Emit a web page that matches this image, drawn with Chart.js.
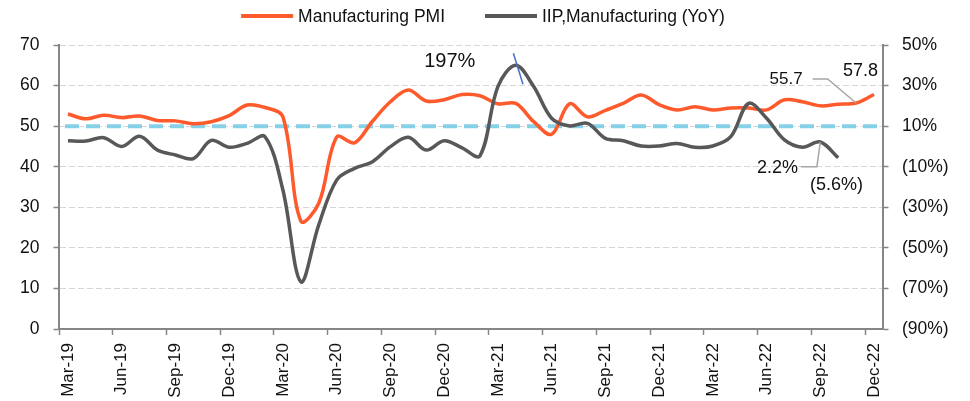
<!DOCTYPE html>
<html>
<head>
<meta charset="utf-8">
<script src="https://cdn.jsdelivr.net/npm/chart.js@4.4.1/dist/chart.umd.min.js"></script>
<style>
  html, body { margin: 0; padding: 0; background: #fff; }
</style>
</head>
<body>
<canvas id="pmiChart" width="970" height="401"></canvas>
<script>
var months = [
  'Mar-19', 'Apr-19', 'May-19', 'Jun-19', 'Jul-19', 'Aug-19', 'Sep-19', 'Oct-19', 'Nov-19', 'Dec-19', 'Jan-20', 'Feb-20',
  'Mar-20', 'Apr-20', 'May-20', 'Jun-20', 'Jul-20', 'Aug-20', 'Sep-20', 'Oct-20', 'Nov-20', 'Dec-20', 'Jan-21', 'Feb-21',
  'Mar-21', 'Apr-21', 'May-21', 'Jun-21', 'Jul-21', 'Aug-21', 'Sep-21', 'Oct-21', 'Nov-21', 'Dec-21', 'Jan-22', 'Feb-22',
  'Mar-22', 'Apr-22', 'May-22', 'Jun-22', 'Jul-22', 'Aug-22', 'Sep-22', 'Oct-22', 'Nov-22', 'Dec-22'
];

// Manufacturing PMI, left axis
var pmi = [
  53.0, 51.8, 52.7, 52.1, 52.5, 51.4, 51.3, 50.6, 51.1, 52.6, 55.2, 54.6,
  52.3, 26.6, 31.0, 47.3, 45.9, 51.2, 56.0, 58.9, 56.2, 56.5, 57.8, 57.5,
  55.5, 55.6, 51.1, 48.0, 55.5, 52.3, 53.9, 55.6, 57.7, 55.3, 54.0, 54.8,
  54.0, 54.5, 54.5, 54.0, 56.5, 56.0, 55.0, 55.4, 55.7, 57.8
];

// IIP manufacturing YoY %, right axis (runs to Oct-22)
var iip = [
  2.8, 2.7, 4.3, 0.0, 5.0, -1.8, -4.2, -6.0, 3.0, -0.4, 1.5, 4.8,
  -21.5, -66.7, -38.7, -16.6, -10.8, -7.5, -0.1, 4.5, -1.8, 2.8, -0.7, -4.6,
  29.5, 197, 29.5, 13.9, 10.1, 11.4, 4.0, 2.8, 0.2, 0.2, 1.5, -0.4,
  0.2, 4.8, 21.2, 13.9, 3.2, -0.4, 2.2, -5.6
];

var leftTicks = { min: 0, max: 70, step: 10 };
var rightTicks = { min: -90, max: 50, step: 20 };
var pmiThreshold = 50;
var iipCap = 40; // axis break: values above this are drawn at the cap

var FONT = '"Liberation Sans", Arial, sans-serif';
var ORANGE = '#ff5a2c';
var GREY = '#585858';
var AXIS = '#868686';

function pctLabel(v) {
  return v < 0 ? '(' + Math.abs(v).toFixed(1) + '%)' : v.toFixed(1) + '%';
}

var extras = {
  id: 'extras',
  beforeDatasetsDraw: function (chart) {
    var ctx = chart.ctx, a = chart.chartArea;
    var y = chart.scales.y.getPixelForValue(pmiThreshold);
    ctx.save();
    ctx.strokeStyle = '#86d1e7';
    ctx.lineWidth = 4;
    ctx.setLineDash([14, 7]);
    ctx.lineDashOffset = -6;
    ctx.beginPath();
    ctx.moveTo(a.left, y);
    ctx.lineTo(a.right, y);
    ctx.stroke();
    ctx.restore();
  },
  afterDatasetsDraw: function (chart) {
    var ctx = chart.ctx;
    var pm = chart.getDatasetMeta(0).data;
    var ip = chart.getDatasetMeta(1).data;
    ctx.save();
    ctx.fillStyle = '#111';
    ctx.textAlign = 'center';
    ctx.textBaseline = 'middle';

    // peak beyond the axis, with a break mark
    var peak = iip.indexOf(Math.max.apply(null, iip));
    var p = ip[peak];
    ctx.strokeStyle = '#4472c4';
    ctx.lineWidth = 1.5;
    ctx.beginPath();
    ctx.moveTo(p.x - 2.4, p.y - 12);
    ctx.lineTo(p.x + 7.2, p.y + 19);
    ctx.stroke();
    ctx.font = '20px ' + FONT;
    ctx.fillText(Math.round(iip[peak]) + '%', p.x - 66, p.y - 4);

    ctx.strokeStyle = '#a6a6a6';
    ctx.lineWidth = 1.5;

    // last two PMI prints
    var n = pmi.length;
    var a1 = pm[n - 2], a2 = pm[n - 1];
    ctx.beginPath();
    ctx.moveTo(a1.x, a1.y);
    ctx.lineTo(a1.x - 28.5, a1.y - 24);
    ctx.lineTo(a1.x - 43.5, a1.y - 24);
    ctx.stroke();
    ctx.font = '17px ' + FONT;
    ctx.fillText(pmi[n - 2].toFixed(1), a1.x - 70, a1.y - 23.5);
    ctx.font = '18px ' + FONT;
    ctx.fillText(pmi[n - 1].toFixed(1), a2.x - 13.5, a2.y - 23.7);

    // last two IIP prints
    var m = iip.length;
    var b1 = ip[m - 2], b2 = ip[m - 1];
    ctx.beginPath();
    ctx.moveTo(b1.x, b1.y);
    ctx.lineTo(b1.x - 3.4, b1.y + 24.7);
    ctx.lineTo(b1.x - 19.4, b1.y + 24.7);
    ctx.stroke();
    ctx.fillText(pctLabel(iip[m - 2]), b1.x - 42.7, b1.y + 26.3);
    ctx.fillText(pctLabel(iip[m - 1]), b2.x - 1.8, b2.y + 27.2);
    ctx.restore();
  },
  afterDraw: function (chart) {
    // legend row: line sample + label for each series
    var ctx = chart.ctx;
    var sets = chart.data.datasets;
    var sample = 52, gap = 5, spacing = 40, y = 16;
    ctx.save();
    ctx.font = '17.5px ' + FONT;
    var total = 0;
    sets.forEach(function (ds, i) {
      total += sample + gap + ctx.measureText(ds.label).width + (i ? spacing : 0);
    });
    var x = chart.width / 2 - 2 - total / 2;
    sets.forEach(function (ds) {
      ctx.strokeStyle = ds.borderColor;
      ctx.lineWidth = 4;
      ctx.beginPath();
      ctx.moveTo(x, y);
      ctx.lineTo(x + sample, y);
      ctx.stroke();
      ctx.fillStyle = '#111';
      ctx.textBaseline = 'middle';
      ctx.fillText(ds.label, x + sample + gap, y + 1);
      x += sample + gap + ctx.measureText(ds.label).width + spacing;
    });
    ctx.restore();
  }
};

var ctx = document.getElementById('pmiChart').getContext('2d');
var pmiChart = new Chart(ctx, {
  type: 'line',
  data: {
    labels: months,
    datasets: [
      {
        label: 'Manufacturing PMI',
        data: pmi,
        yAxisID: 'y',
        borderColor: ORANGE,
        borderWidth: 3.5,
        pointRadius: 0,
        tension: 0.35,
        order: 1
      },
      {
        label: 'IIP,Manufacturing (YoY)',
        data: iip.map(function (v) { return Math.min(v, iipCap); }),
        yAxisID: 'y1',
        borderColor: GREY,
        borderWidth: 3.5,
        pointRadius: 0,
        tension: 0.35,
        order: 0
      }
    ]
  },
  options: {
    responsive: false,
    animation: false,
    layout: { padding: { top: 45 } },
    plugins: {
      legend: { display: false },
      tooltip: { enabled: false }
    },
    scales: {
      x: {
        offset: true,
        grid: {
          offset: true,
          drawOnChartArea: false,
          tickLength: 6,
          tickWidth: 1.5,
          tickColor: function (c) { return c.index % 3 === 0 ? AXIS : 'rgba(0,0,0,0)'; }
        },
        border: { color: AXIS, width: 2 },
        ticks: {
          autoSkip: false,
          minRotation: 90,
          maxRotation: 90,
          padding: 8,
          color: '#111',
          font: { family: FONT, size: 17 },
          callback: function (v, i) { return i % 3 === 0 ? this.getLabelForValue(v) : ''; }
        },
        afterFit: function (s) { s.height = 72; }
      },
      y: {
        position: 'left',
        min: leftTicks.min,
        max: leftTicks.max,
        ticks: {
          stepSize: leftTicks.step,
          padding: 14,
          color: '#111',
          font: { family: FONT, size: 17.5 }
        },
        grid: {
          color: function (c) { return c.tick && c.tick.value === 0 ? 'rgba(0,0,0,0)' : '#d6d6d6'; },
          lineWidth: 1,
          tickColor: AXIS,
          tickLength: 5.5,
          tickWidth: 1.5
        },
        border: { color: AXIS, width: 2, dash: [6, 3] },
        afterFit: function (s) { s.width = 59; }
      },
      y1: {
        position: 'right',
        min: rightTicks.min,
        max: rightTicks.max,
        ticks: {
          stepSize: rightTicks.step,
          padding: 13.5,
          color: '#111',
          font: { family: FONT, size: 17.5 },
          callback: function (v) { return v < 0 ? '(' + Math.abs(v) + '%)' : v + '%'; }
        },
        grid: {
          drawOnChartArea: false,
          tickColor: AXIS,
          tickLength: 5.5,
          tickWidth: 1.5
        },
        border: { color: AXIS, width: 2 },
        afterFit: function (s) { s.width = 87; }
      }
    }
  },
  plugins: [extras]
});
</script>
</body>
</html>
